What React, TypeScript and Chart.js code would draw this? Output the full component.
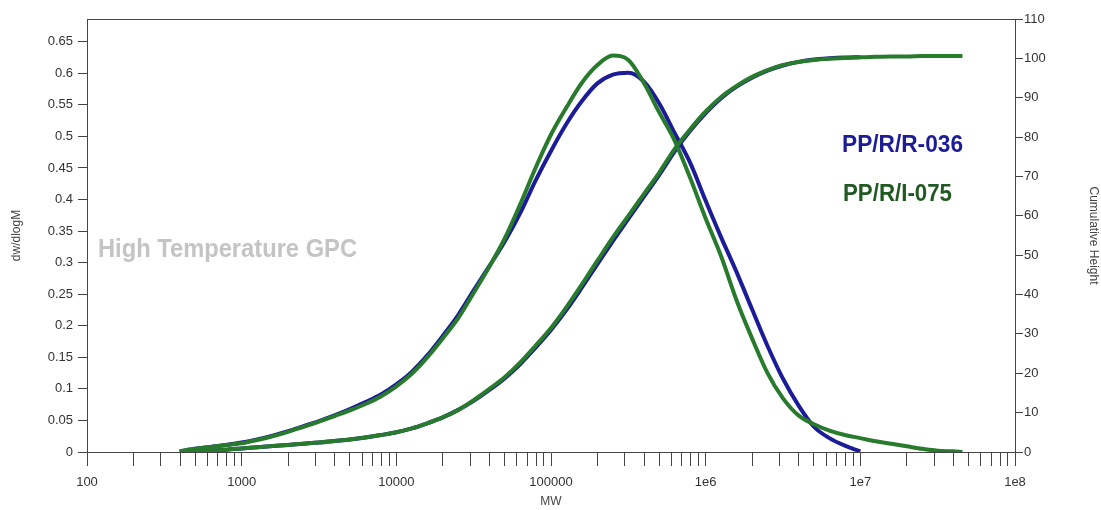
import React, { useEffect, useRef } from 'react';
import { Chart, registerables } from 'chart.js';

Chart.register(...registerables);

// Molecular weight grid (MW)
const mw = [
  398, 501, 631, 794, 1000, 1259, 1585, 1995, 2512, 3162,
  3981, 5012, 6310, 7943, 10000, 12589, 15849, 19953, 25119, 31623,
  39811, 50119, 63096, 79433, 100000, 125893, 158489, 199526, 251189, 316228,
  398107, 501187, 630957, 794328, 1000000, 1258925, 1584893, 1995262, 2511886, 3162278,
  3981072, 5011872, 6309573, 7943282, 10000000, 12589254, 15848932, 19952623, 25118864, 31622777,
  39810717, 45708819,
];

// dw/dlogM, sample PP/R/I-075 (green)
const greenDist = [
  0.001, 0.005, 0.008, 0.011, 0.014, 0.019, 0.025, 0.032, 0.040, 0.048,
  0.057, 0.066, 0.076, 0.088, 0.104, 0.124, 0.150, 0.180, 0.212, 0.252,
  0.293, 0.338, 0.392, 0.450, 0.503, 0.546, 0.585, 0.613, 0.628, 0.621,
  0.585, 0.538, 0.493, 0.434, 0.370, 0.310, 0.240, 0.180, 0.125, 0.085,
  0.058, 0.044, 0.034, 0.027, 0.022, 0.017, 0.013, 0.009, 0.005, 0.002,
  0.001, 0.0,
];

// dw/dlogM, sample PP/R/R-036 (blue)
const blueDist = [
  0.001, 0.005, 0.008, 0.011, 0.015, 0.020, 0.026, 0.033, 0.041, 0.049,
  0.058, 0.068, 0.079, 0.091, 0.107, 0.127, 0.153, 0.184, 0.217, 0.256,
  0.294, 0.333, 0.378, 0.430, 0.477, 0.520, 0.556, 0.584, 0.598, 0.601,
  0.587, 0.552, 0.505, 0.458, 0.398, 0.340, 0.285, 0.226, 0.168, 0.116,
  0.074, 0.040, 0.022, 0.010, 0.001, null, null, null, null, null,
  null, null,
];

// Cumulative height (%), green
const greenCum = [
  0.0, 0.2, 0.4, 0.6, 0.9, 1.2, 1.5, 1.8, 2.1, 2.4,
  2.8, 3.2, 3.7, 4.3, 5.0, 6.0, 7.3, 8.8, 10.7, 13.2,
  16.0, 19.0, 22.7, 27.0, 31.5, 36.8, 42.6, 48.6, 54.5, 60.0,
  65.5, 71.0, 77.0, 82.0, 86.5, 90.2, 93.0, 95.3, 97.0, 98.3,
  99.1, 99.6, 99.9, 100.1, 100.3, 100.4, 100.5, 100.5, 100.6, 100.6,
  100.6, 100.6,
];

// Cumulative height (%), blue
const blueCum = [
  0.0, 0.2, 0.4, 0.6, 0.9, 1.2, 1.5, 1.8, 2.1, 2.4,
  2.8, 3.2, 3.7, 4.3, 5.0, 6.0, 7.3, 8.8, 10.7, 13.0,
  15.7, 18.7, 22.3, 26.5, 31.0, 36.1, 41.8, 47.7, 53.6, 59.2,
  64.8, 70.4, 76.4, 81.6, 86.1, 89.9, 92.8, 95.1, 96.9, 98.2,
  99.1, 99.7, 100.0, 100.2, 100.3, null, null, null, null, null,
  null, null,
];

const xTickValues = [
  100, 200, 300, 400, 500, 600, 700, 800, 900,
  1000, 2000, 3000, 4000, 5000, 6000, 7000, 8000, 9000,
  10000, 20000, 30000, 40000, 50000, 60000, 70000, 80000, 90000,
  100000, 200000, 300000, 400000, 500000, 600000, 700000, 800000, 900000,
  1000000, 2000000, 3000000, 4000000, 5000000, 6000000, 7000000, 8000000, 9000000,
  10000000, 20000000, 30000000, 40000000, 50000000, 60000000, 70000000, 80000000, 90000000,
  100000000,
];
const xLabelValues = [100, 1000, 10000, 100000, 1000000, 10000000, 100000000];
const xLabelTexts = ['100', '1000', '10000', '100000', '1e6', '1e7', '1e8'];

const leftTicks = [0, 0.05, 0.1, 0.15, 0.2, 0.25, 0.3, 0.35, 0.4, 0.45, 0.5, 0.55, 0.6, 0.65];
const rightTicks = [0, 10, 20, 30, 40, 50, 60, 70, 80, 90, 100, 110];

const seriesNames = ['PP/R/R-036', 'PP/R/I-075'];
const watermark = 'High Temperature GPC';

const FONT = 'Arial, "Liberation Sans", sans-serif';
const BLUE = '#1c1c98';
const GREEN = '#287a2c';
const AXIS = '#444';

export default function App() {
  const ref = useRef<HTMLCanvasElement>(null);

  useEffect(() => {
    if (!ref.current) return;
    const pts = (ys: (number | null)[]) =>
      mw.map((m, i) => ({ x: m, y: ys[i] })).filter((p) => p.y !== null);

    const overlay = {
      id: 'overlay',
      afterDraw(chart: any) {
        const { ctx, chartArea } = chart;
        ctx.save();
        ctx.strokeStyle = AXIS;
        ctx.lineWidth = 1;
        ctx.beginPath();
        ctx.moveTo(chartArea.left, chartArea.top + 0.5);
        ctx.lineTo(chartArea.right, chartArea.top + 0.5);
        ctx.stroke();

        ctx.textAlign = 'left';
        ctx.textBaseline = 'alphabetic';
        ctx.fillStyle = '#c4c4c4';
        ctx.font = `bold 25px ${FONT}`;
        ctx.fillText(watermark, 98, 257, 259);

        ctx.fillStyle = BLUE;
        ctx.font = `bold 23px ${FONT}`;
        ctx.fillText(seriesNames[0], 842, 152, 121);
        ctx.fillStyle = '#215a21';
        ctx.fillText(seriesNames[1], 843, 201, 109);
        ctx.restore();
      },
    };

    const tickFont = { family: FONT, size: 13 };
    const chart = new Chart(ref.current, {
      type: 'line',
      data: {
        datasets: [
          { label: 'I-075 dist', data: pts(greenDist), yAxisID: 'y', borderColor: GREEN, borderWidth: 4, pointRadius: 0, cubicInterpolationMode: 'monotone', fill: false },
          { label: 'I-075 cum', data: pts(greenCum), yAxisID: 'y2', borderColor: GREEN, borderWidth: 4, pointRadius: 0, cubicInterpolationMode: 'monotone', fill: false },
          { label: 'R-036 dist', data: pts(blueDist), yAxisID: 'y', borderColor: BLUE, borderWidth: 4, pointRadius: 0, cubicInterpolationMode: 'monotone', fill: false },
          { label: 'R-036 cum', data: pts(blueCum), yAxisID: 'y2', borderColor: BLUE, borderWidth: 4, pointRadius: 0, cubicInterpolationMode: 'monotone', fill: false },
        ],
      },
      options: {
        responsive: false,
        animation: false,
        layout: { padding: { top: 19, left: 0, right: 0, bottom: 0 } },
        plugins: { legend: { display: false }, tooltip: { enabled: false } },
        scales: {
          x: {
            type: 'logarithmic',
            position: 'bottom',
            min: 100,
            max: 100000000,
            afterBuildTicks: (s: any) => {
              s.ticks = xTickValues.map((v) => ({ value: v }));
            },
            afterFit: (s: any) => {
              s.height = 58;
            },
            ticks: {
              autoSkip: false,
              maxRotation: 0,
              minRotation: 0,
              padding: 9,
              color: '#333',
              font: tickFont,
              callback: (v: any) => {
                const i = xLabelValues.indexOf(Number(v));
                return i >= 0 ? xLabelTexts[i] : '';
              },
            },
            grid: { drawOnChartArea: false, drawTicks: true, tickLength: 14, color: AXIS },
            border: { display: true, color: AXIS },
            title: { display: true, text: 'MW', color: '#444', font: { family: FONT, size: 12 }, padding: { top: 0, bottom: 1 } },
          },
          y: {
            type: 'linear',
            position: 'left',
            min: 0,
            max: 0.686,
            afterBuildTicks: (s: any) => {
              s.ticks = leftTicks.map((v) => ({ value: v }));
            },
            afterFit: (s: any) => {
              s.width = 87;
            },
            ticks: { color: '#333', font: tickFont, padding: 5, callback: (v: any) => String(v) },
            grid: { drawOnChartArea: false, drawTicks: true, tickLength: 9, color: AXIS },
            border: { display: true, color: AXIS },
            title: { display: true, text: 'dw/dlogM', color: '#444', font: { family: FONT, size: 12 }, padding: { top: 9, bottom: 0 } },
          },
          y2: {
            type: 'linear',
            position: 'right',
            min: 0,
            max: 110,
            afterBuildTicks: (s: any) => {
              s.ticks = rightTicks.map((v) => ({ value: v }));
            },
            afterFit: (s: any) => {
              s.width = 86;
            },
            ticks: { color: '#333', font: tickFont, padding: 1, callback: (v: any) => String(v) },
            grid: { drawOnChartArea: false, drawTicks: true, tickLength: 8, color: AXIS },
            border: { display: true, color: AXIS },
            title: { display: true, text: 'Cumulative Height', color: '#444', font: { family: FONT, size: 12 }, padding: { top: 0, bottom: 0 } },
          },
        },
      },
      plugins: [overlay],
    } as any);
    return () => chart.destroy();
  }, []);

  return (
    <div style={{ position: 'fixed', left: 0, top: 0, width: 1101, height: 510, background: '#fff' }}>
      <canvas ref={ref} width={1101} height={510} style={{ display: 'block' }} />
    </div>
  );
}
